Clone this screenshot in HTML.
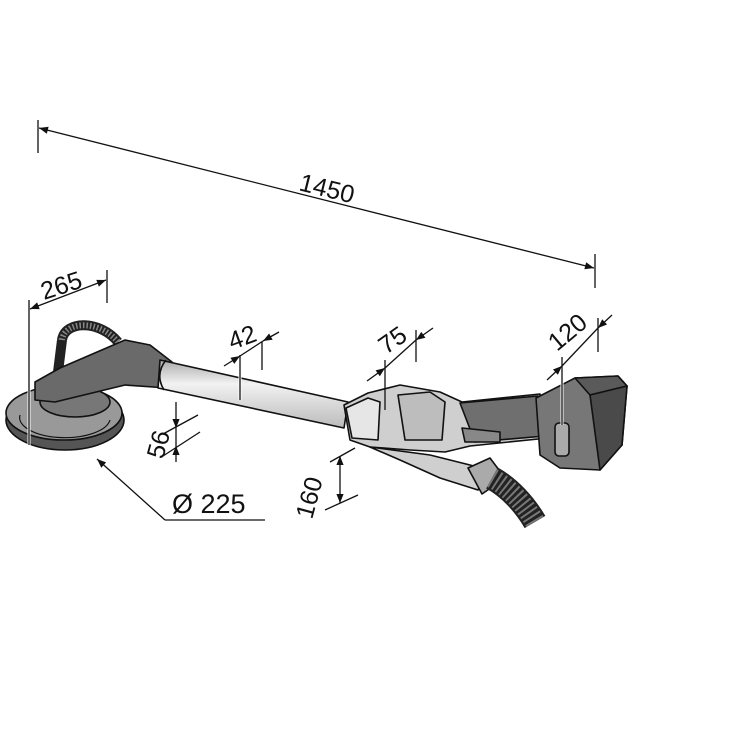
<!DOCTYPE html>
<html><head><meta charset="utf-8"><style>
html,body{margin:0;padding:0;background:#fff}
svg{display:block}
text{font-family:"Liberation Sans",sans-serif;font-size:25px;fill:#111}
</style></head><body>
<svg width="739" height="739" viewBox="0 0 739 739" xmlns="http://www.w3.org/2000/svg">
<defs>
<marker id="a" viewBox="0 0 10 10" refX="10" refY="5" markerWidth="11" markerHeight="9" orient="auto-start-reverse" markerUnits="userSpaceOnUse"><path d="M0,1 L10,5 L0,9 z" fill="#111"/></marker>
<linearGradient id="tube" x1="0" y1="0" x2="0" y2="1"><stop offset="0" stop-color="#aaa"/><stop offset="0.35" stop-color="#f2f2f2"/><stop offset="1" stop-color="#bbb"/></linearGradient>
</defs>
<!-- device -->
<g stroke="#111" stroke-width="1.6" stroke-linejoin="round">
<ellipse cx="65" cy="420" rx="59" ry="30" fill="#555"/>
<ellipse cx="64" cy="413" rx="58" ry="27" fill="#999"/>
<path d="M20,415 A45,20 0 0 0 110,420" fill="none" stroke-width="1.2"/>
<ellipse cx="75" cy="402" rx="35" ry="15" fill="#777"/>
<path d="M62,340 C65,320 100,320 118,342" fill="none" stroke="#222" stroke-width="10"/>
<path d="M62,340 C65,320 100,320 118,342" fill="none" stroke="#888" stroke-width="6" stroke-dasharray="1.5 2"/>
<path d="M62,340 L58,372" fill="none" stroke="#222" stroke-width="10"/>
<path d="M35,382 L60,368 L125,340 L150,345 L172,362 L168,388 L125,385 L55,402 L35,400 Z" fill="#6a6a6a"/>
<path d="M160,360 L348,402 L344,428 L158,388 Z" fill="url(#tube)"/>
<path d="M166,360 C158,370 158,380 164,390" fill="none"/>
<!-- housing -->
<path d="M344,405 L368,393 L400,385 L440,392 L462,402 L540,394 L548,438 L470,446 L445,452 L410,450 L370,447 L350,440 Z" fill="#cfcfcf"/>
<path d="M346,408 L368,398 L380,402 L378,440 L352,438 Z" fill="#e6e6e6"/>
<path d="M398,395 L430,392 L445,402 L442,440 L405,440 Z" fill="#bdbdbd"/>
<path d="M460,403 L538,396 L545,436 L475,442 Z" fill="#6f6f6f"/>
<path d="M462,428 L500,432 L500,442 L465,442 Z" fill="#888"/>
<!-- nozzle -->
<path d="M370,447 L430,455 L470,465 L488,470 L478,490 L440,478 L400,460 Z" fill="#cfcfcf"/>
<path d="M468,468 L490,458 L505,478 L482,494 Z" fill="#aaa"/>
<path d="M492,478 C510,488 525,505 535,522" fill="none" stroke="#222" stroke-width="24"/>
<path d="M492,478 C510,488 525,505 535,522" fill="none" stroke="#777" stroke-width="20" stroke-dasharray="2 3"/>
<!-- battery -->
<path d="M536,398 L575,378 L618,376 L627,386 L622,445 L600,470 L560,468 L540,455 Z" fill="#777"/>
<path d="M575,378 L618,376 L627,386 L590,395 Z" fill="#5a5a5a"/>
<path d="M590,395 L627,386 L622,445 L600,470 Z" fill="#4a4a4a"/>
<rect x="555" y="423" width="14" height="33" rx="4" fill="#aaa"/>
</g>
<!-- dimensions -->
<g stroke="#111" stroke-width="1.3" fill="none">
<line x1="38" y1="120" x2="38" y2="153"/>
<line x1="595" y1="254" x2="595" y2="288"/>
<line x1="39" y1="128" x2="594" y2="268" marker-start="url(#a)" marker-end="url(#a)"/>
<line x1="29" y1="300" x2="29" y2="445" stroke="#fff" stroke-width="3"/>
<line x1="29" y1="300" x2="29" y2="445"/>
<line x1="107" y1="270" x2="107" y2="303"/>
<line x1="30" y1="309" x2="106" y2="280" marker-start="url(#a)" marker-end="url(#a)"/>
<!-- 42 -->
<line x1="240" y1="355" x2="240" y2="400" stroke="#fff" stroke-width="3"/>
<line x1="240" y1="355" x2="240" y2="400"/>
<line x1="262" y1="342" x2="262" y2="370"/>
<line x1="224" y1="366" x2="240" y2="356" marker-end="url(#a)"/>
<line x1="279" y1="332" x2="263" y2="341" marker-end="url(#a)"/>
<line x1="240" y1="356" x2="263" y2="341"/>
<!-- 75 -->
<line x1="385" y1="360" x2="385" y2="410"/>
<line x1="416" y1="330" x2="416" y2="362"/>
<line x1="367" y1="381" x2="385" y2="368" marker-end="url(#a)"/>
<line x1="433" y1="328" x2="416" y2="340" marker-end="url(#a)"/>
<line x1="385" y1="368" x2="416" y2="340"/>
<!-- 120 -->
<line x1="562" y1="357" x2="562" y2="425" stroke="#fff" stroke-width="3"/>
<line x1="562" y1="357" x2="562" y2="425"/>
<line x1="598" y1="318" x2="598" y2="352"/>
<line x1="547" y1="380" x2="562" y2="366" marker-end="url(#a)"/>
<line x1="612" y1="315" x2="598" y2="328" marker-end="url(#a)"/>
<line x1="562" y1="366" x2="598" y2="328"/>
<!-- 56 -->
<line x1="163" y1="434" x2="198" y2="415"/>
<line x1="163" y1="456" x2="200" y2="432"/>
<line x1="176" y1="402" x2="176" y2="428" marker-end="url(#a)"/>
<line x1="176" y1="462" x2="176" y2="446" marker-end="url(#a)"/>
<line x1="176" y1="428" x2="176" y2="446"/>
<!-- 160 -->
<line x1="330" y1="462" x2="355" y2="448"/>
<line x1="325" y1="510" x2="358" y2="495"/>
<line x1="340" y1="456" x2="340" y2="503" marker-start="url(#a)" marker-end="url(#a)"/>
<!-- diameter -->
<line x1="97" y1="459" x2="165" y2="520" marker-start="url(#a)"/>
<line x1="165" y1="520" x2="265" y2="520"/>
</g>
<text transform="translate(298,190) rotate(14)">1450</text>
<text transform="translate(44,300) rotate(-18)">265</text>
<text transform="translate(232,350) rotate(-20)">42</text>
<text transform="translate(386,355) rotate(-35)">75</text>
<text transform="translate(557,352) rotate(-40)">120</text>
<text transform="translate(163,460) rotate(-75)">56</text>
<text transform="translate(312,520) rotate(-75)">160</text>
<text x="172" y="513" style="font-size:27px">Ø 225</text>
</svg>
</body></html>
